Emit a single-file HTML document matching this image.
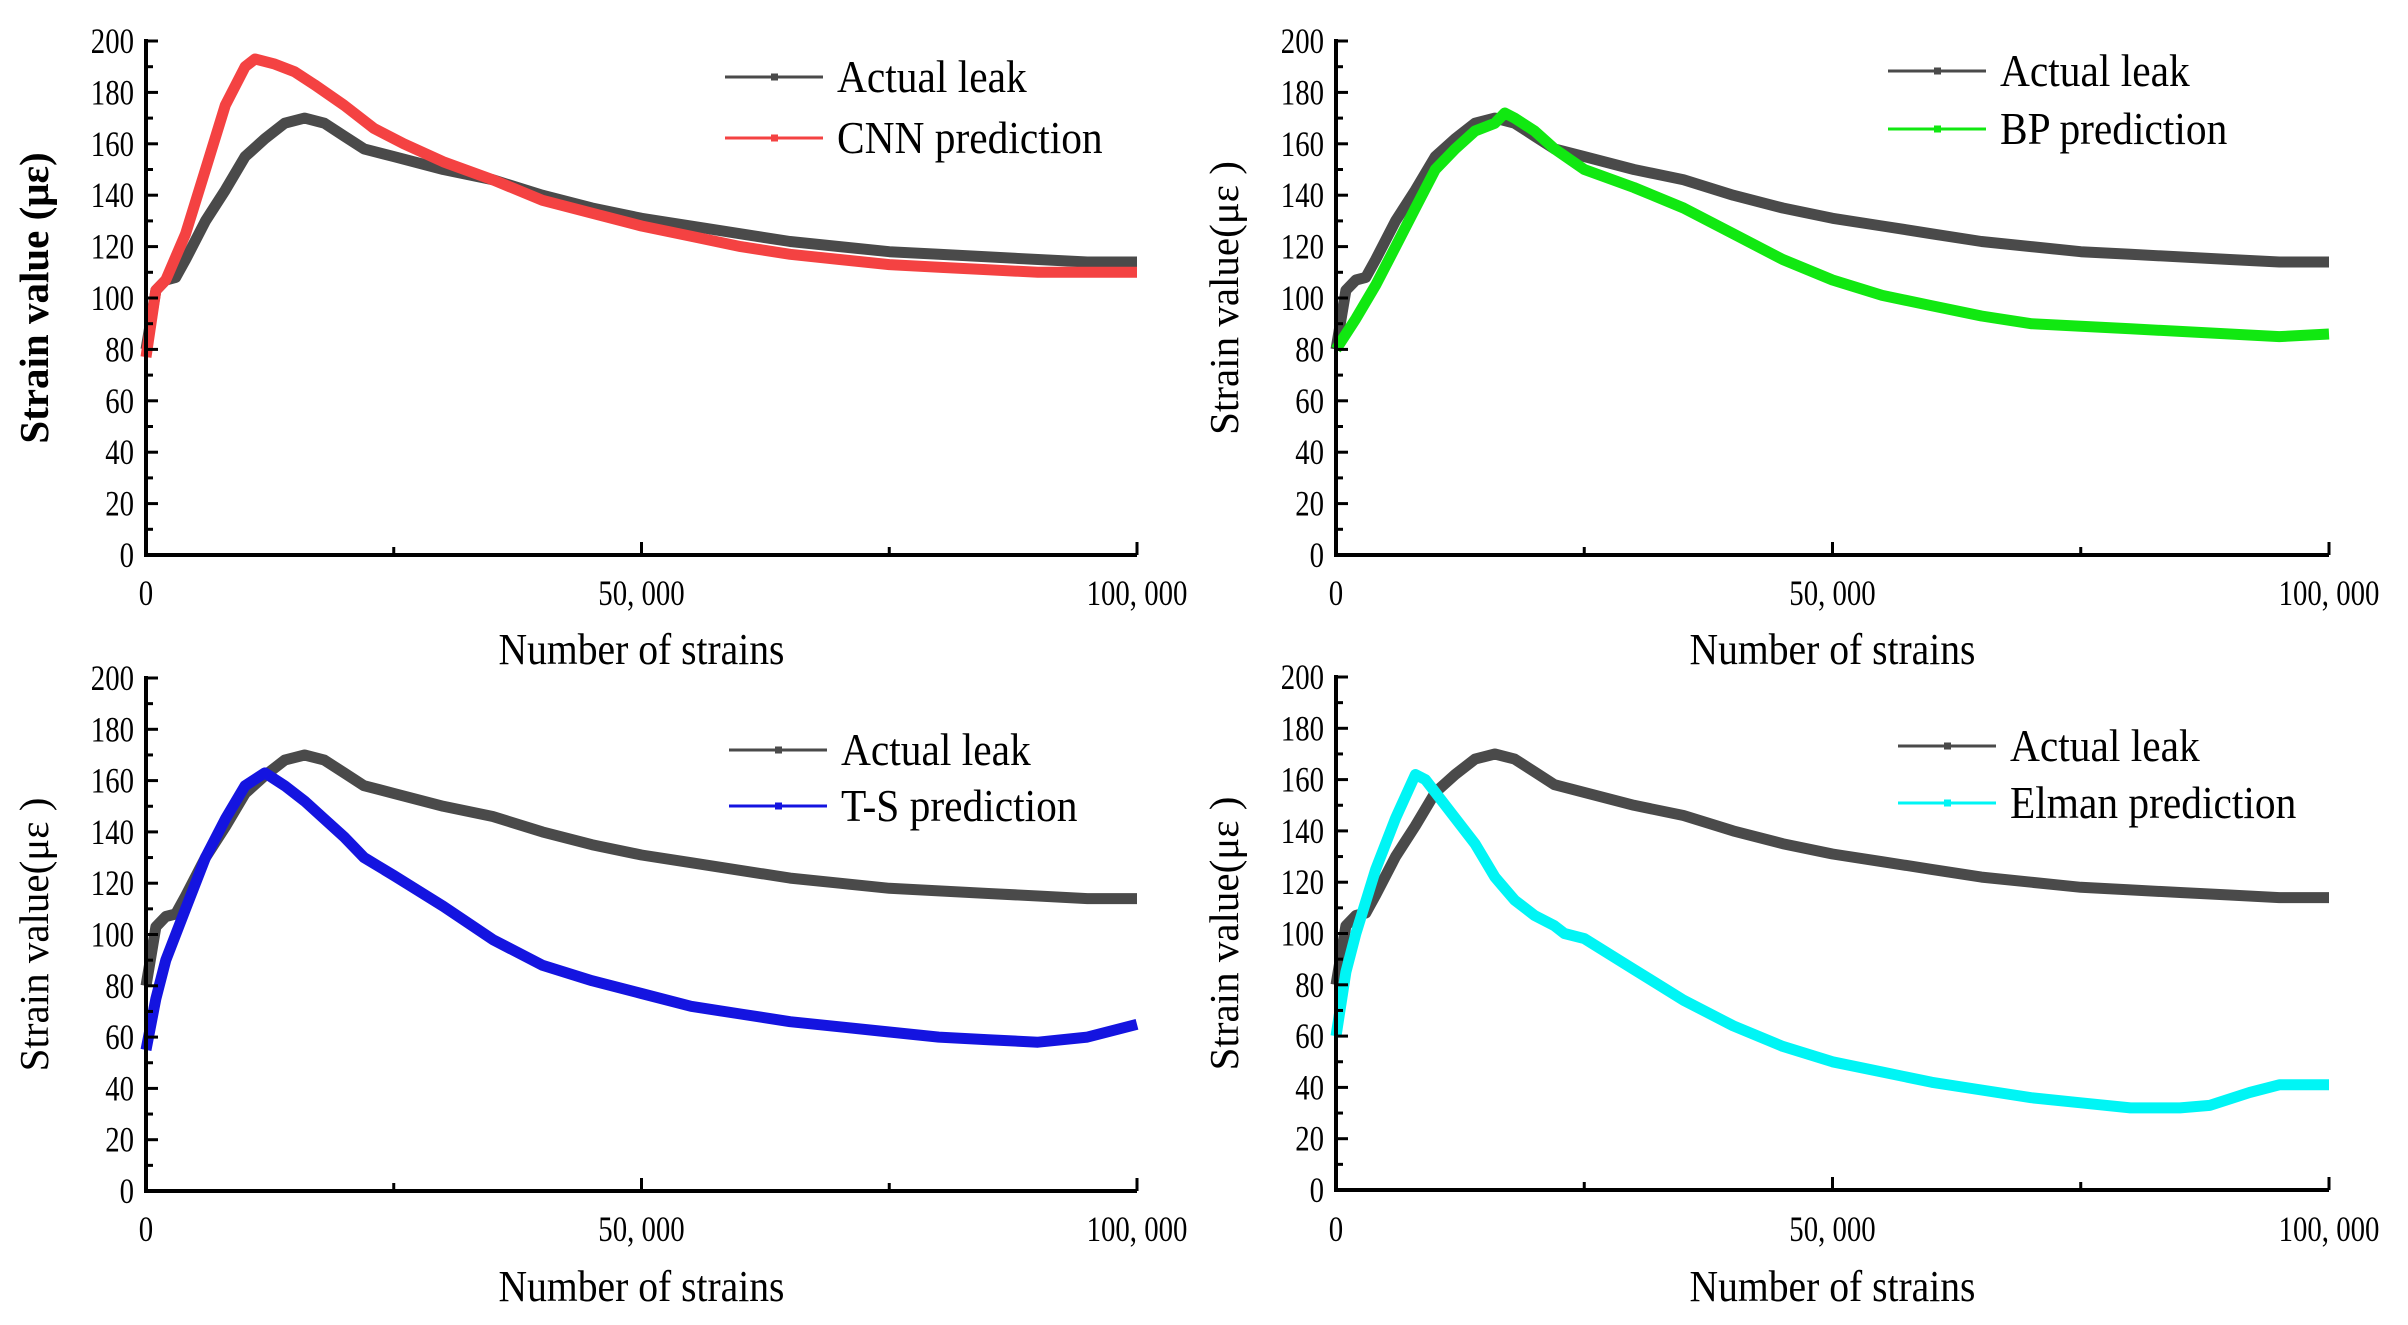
<!DOCTYPE html>
<html><head><meta charset="utf-8">
<style>
html,body{margin:0;padding:0;background:#fff;}
svg{display:block;}
text{font-family:"Liberation Serif",serif;fill:#000;}
</style></head>
<body>
<svg id="fig" width="2408" height="1325" viewBox="0 0 2408 1325" xmlns="http://www.w3.org/2000/svg"></svg>
<script>
// x values in thousands of strains
const actualX = [0,1,2,3,4,6,8,10,12,14,16,18,20,22,25,30,35,40,45,50,55,60,65,70,75,80,85,90,95,100];
const actualY = [80,103,107,108,115,130,142,155,162,168,170,168,163,158,155,150,146,140,135,131,128,125,122,120,118,117,116,115,114,114];
const cnnX = [0,1,2,4,6,8,10,11,13,15,17,20,23,26,30,35,40,45,50,55,60,65,70,75,80,85,90,95,100];
const cnnY = [77,103,107,125,150,175,190,193,191,188,183,175,166,160,153,146,138,133,128,124,120,117,115,113,112,111,110,110,110];
const bpX = [0,2,4,6,8,10,12,14,16,17,18,20,22,25,30,35,40,45,50,55,60,65,70,75,80,85,90,95,100];
const bpY = [80,92,105,120,135,150,158,165,168,172,170,165,158,150,143,135,125,115,107,101,97,93,90,89,88,87,86,85,86];
const tsX = [0,1,2,4,6,8,10,12,14,16,18,20,22,25,30,35,40,45,50,55,60,65,70,75,80,85,90,95,100];
const tsY = [55,75,90,110,130,145,158,163,158,152,145,138,130,123,111,98,88,82,77,72,69,66,64,62,60,59,58,60,65];
const elX = [0,1,2,4,6,8,9,10,12,14,16,18,20,22,23,25,30,35,40,45,50,55,60,65,70,75,80,85,88,92,95,100];
const elY = [60,85,100,125,145,162,160,155,145,135,122,113,107,103,100,98,86,74,64,56,50,46,42,39,36,34,32,32,33,38,41,41];
const yTicks = [0,20,40,60,80,100,120,140,160,180,200];
const xTickVals = [0,50,100];
const xTickLabels = ["0","50, 000","100, 000"];

const NS="http://www.w3.org/2000/svg";
const svg=document.getElementById('fig');
function mk(tag,attrs,parent){const e=document.createElementNS(NS,tag);for(const k in attrs)e.setAttribute(k,attrs[k]);(parent||svg).appendChild(e);return e;}
function squeeze(t,f){const w=t.getComputedTextLength();t.setAttribute('textLength',(w*f).toFixed(1));t.setAttribute('lengthAdjust','spacingAndGlyphs');}

const panels=[
 {x0:146,x1:1137,y0:555,y1:41,pred:[cnnX,cnnY],color:"#f44242",name:"CNN prediction",ylab:"Strain value (με)",bold:true,lx:725,ly1:77,ly2:138,xl:593,xt:650,id:"cnn"},
 {x0:1336,x1:2329,y0:555,y1:41,pred:[bpX,bpY],color:"#11e811",name:"BP prediction",ylab:"Strain value(με )",bold:false,lx:1888,ly1:71,ly2:129,xl:593,xt:650,id:"bp"},
 {x0:146,x1:1137,y0:1191,y1:678,pred:[tsX,tsY],color:"#1414e0",name:"T-S prediction",ylab:"Strain value(με )",bold:false,lx:729,ly1:750,ly2:806,xl:1229,xt:1287,id:"ts"},
 {x0:1336,x1:2329,y0:1190,y1:677,pred:[elX,elY],color:"#00f5f5",name:"Elman prediction",ylab:"Strain value(με )",bold:false,lx:1898,ly1:746,ly2:803,xl:1229,xt:1287,id:"elman"}
];

panels.forEach(p=>{
  const g=mk('g',{});
  
  
  const sx=v=>p.x0+(v/100)*(p.x1-p.x0);
  const sy=v=>p.y0-(v/200)*(p.y0-p.y1);
  const line=(xs,ys,col,nm)=>{
    let d=xs.map((x,i)=>(i?'L':'M')+sx(x).toFixed(1)+','+sy(ys[i]).toFixed(1)).join('');
    const pth=mk('path',{d:d,fill:'none',stroke:col,'stroke-width':11,'stroke-linejoin':'round'},g);
    
    
  };
  line(actualX,actualY,'#4a4a4a','actual-leak-line');
  line(p.pred[0],p.pred[1],p.color,'prediction-line');
  const ax=mk('path',{d:`M${p.x0},${p.y1-2}L${p.x0},${p.y0}L${p.x1},${p.y0}`,fill:'none',stroke:'#000','stroke-width':4},g);
  
  
  for(let v=0;v<=200;v+=10){
    const major=v%20===0;
    mk('line',{x1:p.x0,x2:p.x0+(major?12:7),y1:sy(v),y2:sy(v),stroke:'#000','stroke-width':3},g);
  }
  yTicks.forEach(v=>{
    const t=mk('text',{x:p.x0-12,y:sy(v)+12,'text-anchor':'end','font-size':36},g);
    t.textContent=v;
    
    
    squeeze(t,0.8);
  });
  [0,25,50,75,100].forEach(v=>{
    const major=v%50===0;
    mk('line',{x1:sx(v),x2:sx(v),y1:p.y0,y2:p.y0-(major?13:8),stroke:'#000','stroke-width':3},g);
  });
  xTickVals.forEach((v,i)=>{
    const t=mk('text',{x:sx(v),y:p.xl+12,'text-anchor':'middle','font-size':36},g);
    t.textContent=xTickLabels[i];
    
    
    squeeze(t,0.8);
  });
  const xt=mk('text',{x:(p.x0+p.x1)/2,y:p.xt+14,'text-anchor':'middle','font-size':44},g);
  xt.textContent='Number of strains';
  
  
  squeeze(xt,0.9);
  const cy=(p.y0+p.y1)/2;
  const yt=mk('text',{x:0,y:0,'text-anchor':'middle','font-size':41,transform:`translate(${p.x0-98},${cy}) rotate(-90)`},g);
  if(p.bold) yt.setAttribute('font-weight','bold');
  yt.textContent=p.ylab;
  
  
  [[p.ly1,'#4a4a4a','Actual leak'],[p.ly2,p.color,p.name]].forEach(([ly,col,lab])=>{
    const lg=mk('g',{},g);
    
    
    mk('line',{x1:p.lx,x2:p.lx+98,y1:ly,y2:ly,stroke:col,'stroke-width':3},lg);
    mk('rect',{x:p.lx+46,y:ly-3.5,width:7,height:7,fill:col},lg);
    const t=mk('text',{x:p.lx+112,y:ly+15,'font-size':46},lg);
    t.textContent=lab;
    squeeze(t,0.9);
  });
});
</script>
</body></html>
